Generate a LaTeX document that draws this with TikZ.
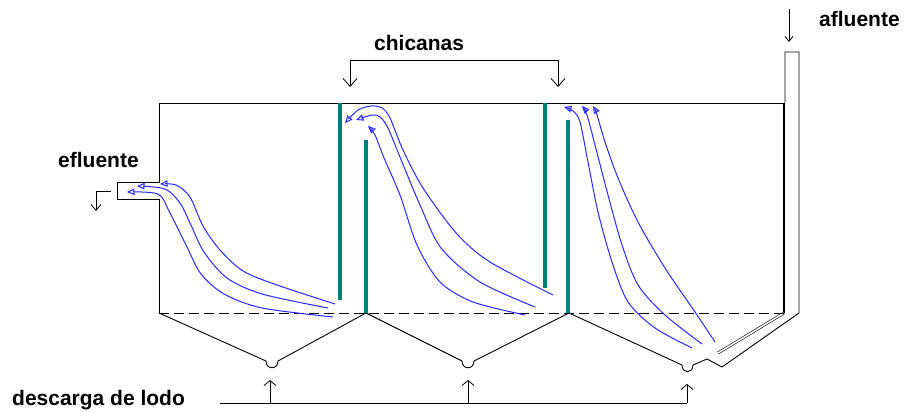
\documentclass[tikz,border=0pt]{standalone}
\usepackage{fontspec}
\setmainfont{Liberation Sans}
\usetikzlibrary{arrows.meta}
\definecolor{baffle}{RGB}{0,128,122}
\definecolor{flowblue}{RGB}{40,40,255}
\tikzset{
  wall/.style={line width=0.9pt, black},
  bafflebar/.style={line width=4pt, baffle},
  flowline/.style={line width=1pt, flowblue, -{Triangle[open,length=7.5pt,width=6.5pt]}},
  label/.style={font=\fontsize{21}{24}\selectfont\bfseries, inner sep=0pt, anchor=base west},
  pointer/.style={line width=0.8pt, -{Straight Barb[length=5pt,width=10pt]}},
}
\begin{document}
\begin{tikzpicture}[x=1pt,y=-1pt]
\useasboundingbox (0,0) rectangle (904,412);

% tank outline with the outlet opening on the left wall
\draw[wall] (784,103) -- (159,103) -- (159,182) -- (117,182) -- (117,199) -- (159,199) -- (159,313);
\draw[line width=2pt] (784,103) -- (784,313);
% inlet pipe
\draw[wall] (785,103) -- (785,52) -- (799,52) -- (799,313) -- (722,367);
\draw[line width=0.6pt, double, double distance=1.6pt] (784,313) -- (718,353);
% sludge line
\draw[wall, dashed, dash pattern=on 10pt off 5pt] (159,313) -- (784,313);

% hoppers
\draw[wall] (159,313) -- (266,361) .. controls (266,370) and (278,370) .. (278,361) -- (366,313)
  -- (462,361) .. controls (462,370) and (474,370) .. (474,361) -- (569,313)
  -- (682,365) .. controls (682,374) and (693,374) .. (693,365) -- (707,359) -- (722,367);

% baffles
\draw[bafflebar] (340,103) -- (340,300);
\draw[bafflebar] (366,140) -- (366,313);
\draw[bafflebar] (545,103) -- (545,288);
\draw[bafflebar] (568,120) -- (568,313);

% flow lines, first chamber
\draw[flowline] plot[smooth] coordinates {(335,304) (277,285) (243,271) (220,250) (203,226) (190,197) (176,185) (160,184)};
\draw[flowline] plot[smooth] coordinates {(328,308) (262,294) (227,278) (204,252) (190,223) (180,203) (165,189) (137,186)};
\draw[flowline] plot[smooth] coordinates {(333,317) (262,308) (224,294) (201,274) (187,247) (169,211) (158,194) (127,192)};

% flow lines, second chamber
\draw[flowline] plot[smooth] coordinates {(553,295) (490,262) (457,234) (423,188) (403,150) (390,118) (382,108) (371,106) (358,110) (345,123)};
\draw[flowline] plot[smooth] coordinates {(535,307) (480,282) (441,248) (420,205) (402,162) (388,128) (380,117) (372,115) (356,120)};
\draw[flowline] plot[smooth] coordinates {(525,315) (473,302) (440,282) (417,245) (400,195) (384,158) (375,135) (368,126)};

% flow lines, third chamber
\draw[flowline] plot[smooth] coordinates {(715,342) (695,312) (665,268) (638,222) (618,178) (605,142) (597,115) (593,106)};
\draw[flowline] plot[smooth] coordinates {(702,344) (665,315) (638,285) (622,245) (608,195) (595,145) (587,115) (582,106)};
\draw[flowline] plot[smooth] coordinates {(692,348) (655,328) (628,302) (612,262) (598,212) (588,162) (580,122) (573,111) (564,107)};

% chicanas bracket
\coordinate (cl) at (350,87);
\coordinate (cr) at (558,87);
\draw[pointer, -{Straight Barb[length=8pt,width=14pt]}] (350,60) -- (558,60) -- (cr);
\draw[pointer, -{Straight Barb[length=8pt,width=14pt]}] (350,60) -- (cl);
\node[label] (chic) at (374,51) {chicanas};

% inflow
\coordinate (inA) at (789,9);
\coordinate (inB) at (789,42);
\draw[pointer, -{Straight Barb[length=5pt,width=8pt]}] (inA) -- (inB);
\node[label] (afl) at (819,27) {afluente};

% outflow
\coordinate (outA) at (111,191);
\coordinate (outB) at (96,211);
\draw[pointer, -{Straight Barb[length=6pt,width=10pt]}] (outA) -- (96,191) -- (outB);
\node[label] (efl) at (58,167) {efluente};

% sludge discharge
\coordinate (d0) at (220,403);
\coordinate (d3) at (687,403);
\draw[wall] (d0) -- (d3);
\draw[pointer, -{Straight Barb[length=5pt,width=12pt]}] (270,403) -- (270,380);
\draw[pointer, -{Straight Barb[length=5pt,width=12pt]}] (468,403) -- (468,380);
\draw[pointer, -{Straight Barb[length=5pt,width=12pt]}] (d3) -- (687,384);
\node[label] (lodo) at (12,405) {descarga de lodo};
\end{tikzpicture}
\end{document}
